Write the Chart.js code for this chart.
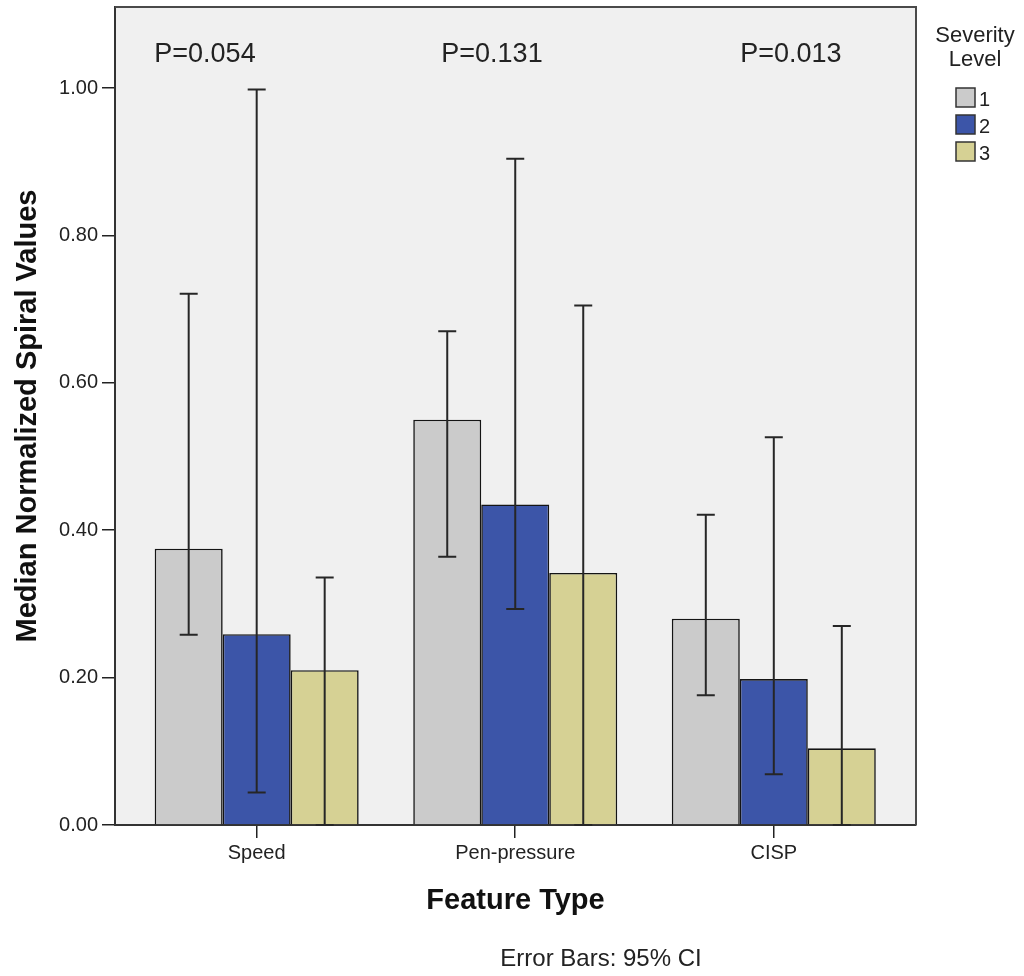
<!DOCTYPE html>
<html>
<head>
<meta charset="utf-8">
<title>Median Normalized Spiral Values</title>
<script src="https://cdn.jsdelivr.net/npm/chart.js@4.4.1/dist/chart.umd.min.js"></script>
<style>
  html, body { margin: 0; padding: 0; background: #fff; }
</style>
</head>
<body>
<canvas id="chart" width="1024" height="976"></canvas>
<script>

    // values
    const features = ['Speed', 'Pen-pressure', 'CISP']
    const severityLevels = ['1', '2', '3']

    const level1 = [0.375, 0.550, 0.280]
    const level2 = [0.259, 0.435, 0.198]
    const level3 = [0.210, 0.342, 0.104]

    // 95% CI ends (lower ends below zero are clipped at the axis)
    const level1Low  = [0.258, 0.364, 0.176]
    const level1High = [0.721, 0.670, 0.421]
    const level2Low  = [0.044, 0.293, 0.069]
    const level2High = [0.998, 0.904, 0.526]
    const level3Low  = [0, 0, 0]
    const level3High = [0.336, 0.705, 0.270]

    const pLabels = ['P=0.054', 'P=0.131', 'P=0.013']
    const yTickStep = 0.2

    const colors = ['#cbcbcb', '#3c55a8', '#d6d194']
    const fonts = "'Liberation Sans', Arial, sans-serif"

    // where the p labels sit, in axis units
    const pLabelX = [-0.2, 0.91, 2.066]
    const pLabelY = 1.035

    const series = [level1, level2, level3]
    const lows = [level1Low, level2Low, level3Low]
    const highs = [level1High, level2High, level3High]

    const plotBackground = {
        id: 'plotBackground',
        beforeDraw(chart) {
            const {ctx, chartArea: a} = chart
            ctx.save()
            ctx.fillStyle = '#f0f0f0'
            ctx.fillRect(a.left, a.top, a.right - a.left, a.bottom - a.top)
            ctx.restore()
        }
    }

    const errorBars = {
        id: 'errorBars',
        afterDatasetsDraw(chart) {
            const {ctx} = chart
            const y = chart.scales.y
            ctx.save()
            ctx.strokeStyle = '#262626'
            ctx.lineWidth = 2
            series.forEach((s, i) => {
                chart.getDatasetMeta(i).data.forEach((bar, j) => {
                    const top = y.getPixelForValue(highs[i][j])
                    const bot = y.getPixelForValue(lows[i][j])
                    ctx.beginPath()
                    ctx.moveTo(bar.x, top)
                    ctx.lineTo(bar.x, bot)
                    ctx.moveTo(bar.x - 9, top)
                    ctx.lineTo(bar.x + 9, top)
                    ctx.moveTo(bar.x - 9, bot)
                    ctx.lineTo(bar.x + 9, bot)
                    ctx.stroke()
                })
            })
            ctx.restore()
        }
    }

    const extras = {
        id: 'extras',
        afterDraw(chart) {
            const {ctx, chartArea: a} = chart
            const x = chart.scales.x
            const y = chart.scales.y
            ctx.save()

            // frame top + right
            ctx.strokeStyle = '#4a4a4a'
            ctx.lineWidth = 2
            ctx.beginPath()
            ctx.moveTo(a.left, a.top)
            ctx.lineTo(a.right, a.top)
            ctx.lineTo(a.right, a.bottom)
            ctx.stroke()

            ctx.fillStyle = '#222'
            ctx.textBaseline = 'alphabetic'
            ctx.textAlign = 'center'
            ctx.font = `27px ${fonts}`
            pLabels.forEach((t, i) => {
                ctx.fillText(t, x.getPixelForValue(pLabelX[i]), y.getPixelForValue(pLabelY))
            })

            ctx.font = `24px ${fonts}`
            ctx.fillText('Error Bars: 95% CI', 601, 966)

            // legend
            ctx.font = `22px ${fonts}`
            ctx.fillText('Severity', 975, 42)
            ctx.fillText('Level', 975, 66)
            ctx.textAlign = 'left'
            ctx.font = `20px ${fonts}`
            severityLevels.forEach((lvl, i) => {
                const top = 88 + i * 27
                ctx.fillStyle = colors[i]
                ctx.fillRect(956, top, 19, 19)
                ctx.strokeStyle = '#333'
                ctx.lineWidth = 1.5
                ctx.strokeRect(956, top, 19, 19)
                ctx.fillStyle = '#222'
                ctx.fillText(lvl, 979, top + 18)
            })
            ctx.restore()
        }
    }

    const ctx = document.getElementById('chart')

    new Chart(ctx, {
        type: 'bar',
        data: {
            datasets: series.map((s, i) => {
                return {
                    label: severityLevels[i],
                    data: s.map((v, j) => ({x: j, y: v})),
                    backgroundColor: colors[i],
                    borderColor: '#141414',
                    borderWidth: 1.6,
                    categoryPercentage: 0.789,
                    barPercentage: 1,
                }
            })
        },
        options: {
            responsive: false,
            animation: false,
            devicePixelRatio: 1,
            layout: { padding: { top: 7, right: 108, left: 0, bottom: 0 } },
            plugins: {
                legend: { display: false },
                tooltip: { enabled: false },
            },
            scales: {
                x: {
                    type: 'linear',
                    min: -0.548,
                    max: 2.55,
                    offset: false,
                    afterFit: scale => { scale.height = 151; scale.paddingLeft = 0; scale.paddingRight = 0 },
                    afterBuildTicks: scale => { scale.ticks = features.map((f, i) => ({value: i})) },
                    grid: { display: true, offset: false, drawOnChartArea: false, drawTicks: true, tickLength: 13, color: '#222', lineWidth: 1.5 },
                    border: { display: true, color: '#333', width: 2 },
                    ticks: {
                        autoSkip: false,
                        maxRotation: 0,
                        padding: 3,
                        color: '#222',
                        font: { family: fonts, size: 20 },
                        callback: v => features[v] ?? '',
                    },
                    title: {
                        display: true,
                        text: 'Feature Type',
                        color: '#111',
                        font: { family: fonts, size: 29, weight: 'bold' },
                        padding: { bottom: 58 },
                    },
                },
                y: {
                    min: 0,
                    max: 1.11,
                    afterFit: scale => { scale.width = 115; scale.paddingTop = 0; scale.paddingBottom = 0 },
                    grid: { display: true, drawOnChartArea: false, drawTicks: true, tickLength: 13, color: '#222', lineWidth: 1.5 },
                    border: { display: true, color: '#333', width: 2 },
                    ticks: {
                        stepSize: yTickStep,
                        includeBounds: false,
                        padding: 4,
                        color: '#222',
                        font: { family: fonts, size: 20 },
                        callback: v => v.toFixed(2),
                    },
                    title: {
                        display: true,
                        text: 'Median Normalized Spiral Values',
                        color: '#111',
                        font: { family: fonts, size: 29, weight: 'bold' },
                        padding: { top: 11 },
                    },
                },
            },
        },
        plugins: [plotBackground, errorBars, extras],
    });

</script>
</body>
</html>
